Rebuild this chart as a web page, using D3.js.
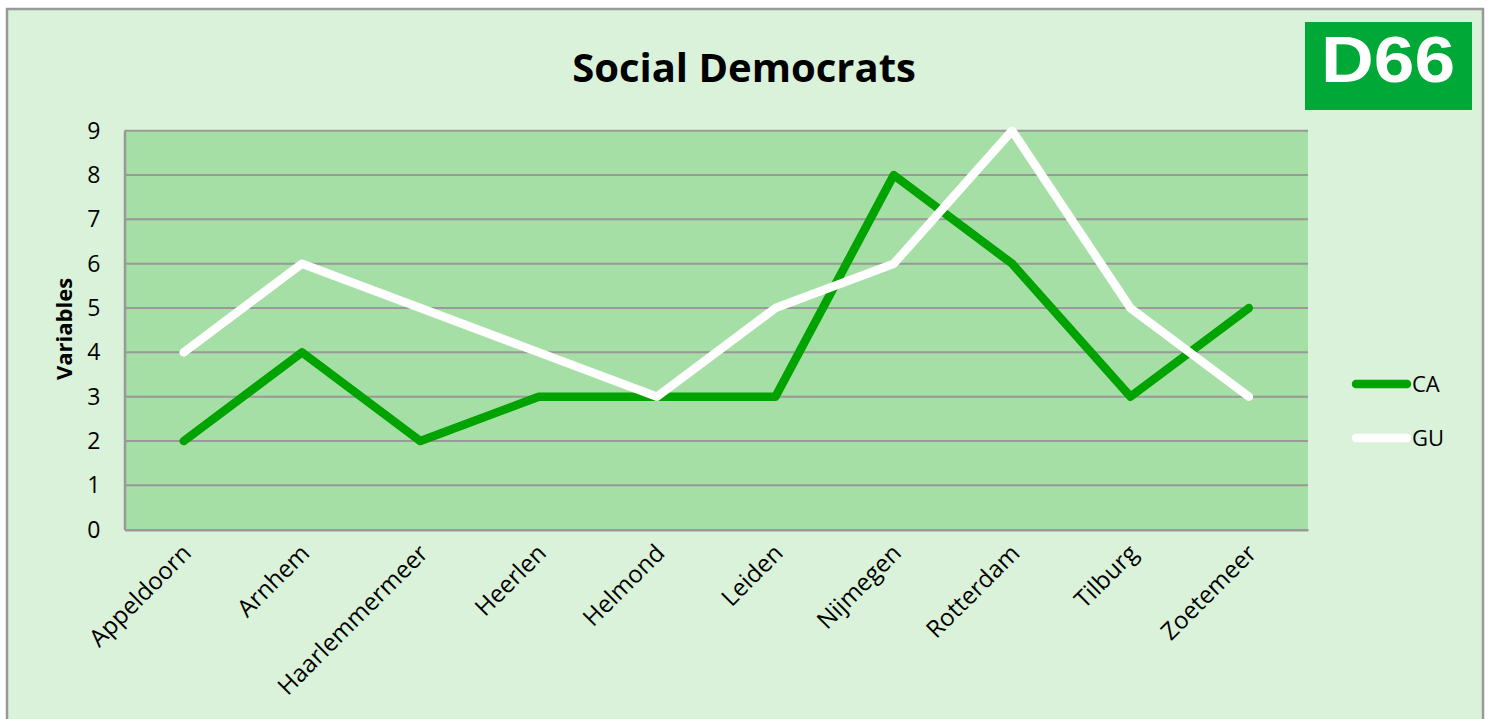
<!DOCTYPE html>
<html>
<head>
<meta charset="utf-8">
<script src="https://cdn.jsdelivr.net/npm/d3@7"></script>
<style>
  html, body { margin: 0; padding: 0; background: #ffffff; }
  svg { display: block; }
</style>
</head>
<body>
<svg id="chart" width="1490" height="719"></svg>
<script>
// City categories and the two series plotted per city
const cities = ["Appeldoorn", "Arnhem", "Haarlemmermeer", "Heerlen", "Helmond",
                "Leiden", "Nijmegen", "Rotterdam", "Tilburg", "Zoetemeer"];
const seriesCA = [2, 4, 2, 3, 3, 3, 8, 6, 3, 5];
const seriesGU = [4, 6, 5, 4, 3, 5, 6, 9, 5, 3];
const yTicks = [0, 1, 2, 3, 4, 5, 6, 7, 8, 9];
const seriesNames = ["CA", "GU"];

const svg = d3.select("#chart");
const FONT = "'Open Sans', 'Noto Sans', sans-serif";

// Outer chart panel
svg.append("rect")
  .attr("x", 7).attr("y", 9).attr("width", 1476).attr("height", 720)
  .attr("fill", "#daf2da").attr("stroke", "#999999").attr("stroke-width", 2.5);

const plot = { left: 124.5, right: 1308, top: 130.7, bottom: 529.7 };

const x = d3.scaleBand().domain(cities).range([plot.left, plot.right]);
const y = d3.scaleLinear().domain([0, 9]).range([plot.bottom, plot.top]);

// Plot area background
svg.append("rect")
  .attr("x", plot.left).attr("y", plot.top)
  .attr("width", plot.right - plot.left).attr("height", plot.bottom - plot.top)
  .attr("fill", "#a6dfa6");

// Horizontal gridlines
svg.append("g")
  .selectAll("line")
  .data(yTicks.filter(d => d > 0))
  .join("line")
  .attr("x1", plot.left).attr("x2", plot.right)
  .attr("y1", d => y(d)).attr("y2", d => y(d))
  .attr("stroke", "#999999").attr("stroke-width", 2);

// Y axis
const yAxis = svg.append("g")
  .attr("transform", `translate(${plot.left},0)`)
  .call(d3.axisLeft(y).tickValues(yTicks).tickSize(0).tickPadding(24));
yAxis.select(".domain").attr("stroke", "#999999").attr("stroke-width", 2.5);
yAxis.selectAll("text")
  .attr("font-family", FONT)
  .attr("font-size", 23).attr("fill", "#000");

// X axis
const xAxis = svg.append("g")
  .attr("transform", `translate(0,${plot.bottom})`)
  .call(d3.axisBottom(x).tickSize(0).tickPadding(0));
xAxis.select(".domain").attr("stroke", "#999999").attr("stroke-width", 2.5);
xAxis.selectAll("text")
  .attr("font-family", FONT)
  .attr("font-size", 24).attr("fill", "#000")
  .attr("text-anchor", "end")
  .attr("dy", null).attr("y", 0)
  .attr("transform", "translate(9,25) rotate(-45)");

// Series lines
const line = d3.line()
  .x((d, i) => x(cities[i]) + x.bandwidth() / 2)
  .y(d => y(d));

const series = [
  { name: seriesNames[0], values: seriesCA, color: "#00a300" },
  { name: seriesNames[1], values: seriesGU, color: "#ffffff" }
];

svg.append("g")
  .selectAll("path")
  .data(series)
  .join("path")
  .attr("d", d => line(d.values))
  .attr("fill", "none")
  .attr("stroke", d => d.color)
  .attr("stroke-width", 8.5)
  .attr("stroke-linecap", "round")
  .attr("stroke-linejoin", "round");

// Legend
const legend = svg.append("g")
  .selectAll("g")
  .data(series)
  .join("g")
  .attr("transform", (d, i) => `translate(1356,${384 + i * 54})`);
legend.append("line")
  .attr("x1", 0).attr("x2", 51).attr("y1", 0).attr("y2", 0)
  .attr("stroke", d => d.color).attr("stroke-width", 8.5)
  .attr("stroke-linecap", "round");
legend.append("text")
  .attr("x", 56).attr("y", 0).attr("dy", "0.36em")
  .attr("font-family", FONT)
  .attr("font-size", 22).attr("fill", "#000")
  .text(d => d.name);

// Y axis title
svg.append("text")
  .attr("transform", "translate(72,329) rotate(-90)")
  .attr("text-anchor", "middle")
  .attr("font-family", FONT)
  .attr("font-weight", "bold").attr("font-size", 22).attr("fill", "#000")
  .text("Variables");

// Chart title
svg.append("text")
  .attr("x", 744).attr("y", 82)
  .attr("text-anchor", "middle")
  .attr("font-family", FONT)
  .attr("font-weight", "bold").attr("font-size", 40).attr("fill", "#000")
  .text("Social Democrats");

// Party badge
svg.append("rect")
  .attr("x", 1305).attr("y", 22).attr("width", 167).attr("height", 88)
  .attr("fill", "#00a838");
svg.append("text")
  .attr("x", 1321).attr("y", 82)
  .attr("textLength", 134).attr("lengthAdjust", "spacingAndGlyphs")
  .attr("font-family", "'Liberation Sans', Arial, sans-serif")
  .attr("font-weight", "bold").attr("font-size", 64).attr("fill", "#ffffff")
  .text("D66");
</script>
</body>
</html>
